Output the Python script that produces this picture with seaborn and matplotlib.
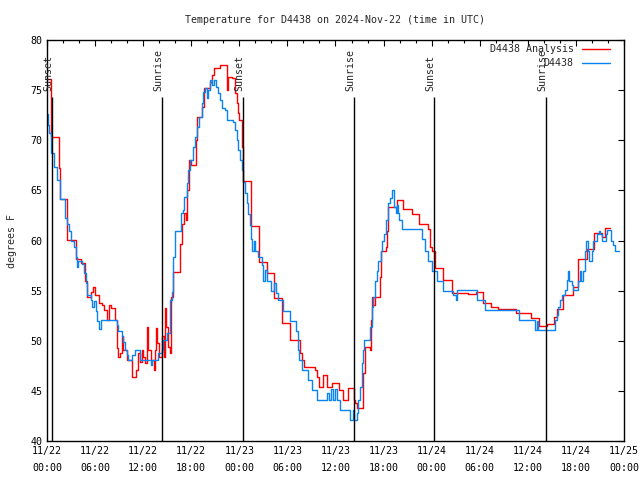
import pandas as pd
import seaborn as sns
import matplotlib.pyplot as plt
import matplotlib.dates as mdates
from matplotlib.ticker import MultipleLocator

# hours since 2024-11-22 00:00 UTC, step values in degrees F
obs_hours = [0.00, 0.12, 0.25, 0.50, 0.87, 1.25, 1.62, 2.25, 2.50, 2.75, 3.00, 3.37, 3.62, 3.74, 3.87,
             4.37, 4.62, 4.87, 4.99, 5.49, 5.62, 5.87, 6.11, 6.24, 6.49, 6.74, 8.74, 8.86, 9.36, 9.48,
             9.73, 9.98, 10.11, 10.61, 10.98, 11.61, 12.98, 13.10, 13.85, 14.35, 14.48, 14.98, 15.35,
             15.60, 15.72, 15.97, 16.72, 16.97, 17.10, 17.47, 17.60, 17.85, 18.22, 18.47, 18.72, 18.97,
             19.34, 19.47, 19.72, 19.97, 20.09, 20.34, 20.59, 20.84, 21.09, 21.34, 21.59, 21.84, 22.21,
             22.46, 23.21, 23.46, 23.71, 23.83, 24.08, 24.33, 24.46, 24.71, 24.96, 25.08, 25.33, 25.46,
             25.58, 25.83, 25.96, 26.33, 26.83, 26.96, 27.21, 27.46, 27.96, 28.33, 28.58, 28.83, 29.45,
             30.33, 31.08, 31.32, 31.45, 31.82, 32.57, 33.07, 33.70, 34.94, 35.19, 35.44, 35.69, 35.94,
             36.19, 36.56, 37.81, 38.19, 38.31, 38.69, 38.81, 39.06, 39.31, 39.44, 39.56, 40.31, 40.56,
             40.68, 40.93, 41.18, 41.31, 41.68, 41.81, 42.06, 42.31, 42.56, 42.81, 43.06, 43.31, 43.56,
             43.68, 43.81, 43.93, 44.30, 46.80, 47.17, 47.55, 48.04, 48.67, 49.42, 50.66, 51.04, 51.16,
             53.66, 54.66, 58.90, 60.90, 61.15, 61.27, 63.40, 63.65, 63.77, 64.02, 64.27, 64.64, 64.89,
             65.02, 65.14, 65.52, 65.64, 66.26, 66.51, 66.64, 66.89, 67.14, 67.26, 67.51, 67.64, 68.01,
             68.13, 68.63, 68.88, 69.01, 69.26, 69.76, 69.88, 70.38, 70.63, 70.88, 71.38]
obs_temp = [72.6, 71.5, 70.7, 68.7, 67.3, 66.0, 64.1, 62.2, 61.7, 61.0, 60.0, 59.4, 58.4, 57.4, 58.0,
            57.7, 56.8, 55.8, 54.6, 54.1, 53.4, 54.0, 53.0, 52.0, 51.2, 52.1, 51.6, 51.0, 50.5, 49.9,
            49.1, 48.6, 48.1, 48.6, 49.1, 48.1, 47.6, 48.1, 48.8, 49.1, 50.1, 50.8, 54.1,
            54.9, 58.4, 61.0, 62.7, 63.0, 64.3, 65.7, 67.0, 68.0, 69.3, 70.3, 71.3, 72.3,
            73.7, 74.8, 75.2, 74.2, 75.0, 76.0, 75.5, 76.0, 75.3, 74.7, 74.0, 73.2, 73.0,
            72.0, 71.8, 71.0, 70.0, 69.0, 68.0, 67.0, 65.8, 64.7, 63.7, 62.6, 61.6, 60.2,
            59.0, 60.0, 59.0, 58.4, 57.6, 56.0, 57.1, 56.0, 55.0, 55.8, 54.8, 54.1, 53.0,
            52.0, 51.0, 49.1, 48.1, 47.1, 46.1, 45.1, 44.1, 44.8, 44.1, 45.2, 44.1, 45.2,
            44.1, 43.1, 42.1, 43.1, 42.1, 42.8, 44.1, 45.4, 47.8, 49.1, 50.1, 51.4, 53.4,
            54.4, 56.0, 57.0, 58.0, 59.0, 60.0, 60.7, 62.0, 63.7, 64.2, 65.0, 63.3, 62.7,
            63.5, 62.7, 62.0, 61.2, 60.2, 59.0, 58.0, 57.0, 56.0, 55.0, 54.6, 54.1, 55.1,
            54.1, 53.1, 52.1, 51.1, 52.0, 51.1, 52.1, 52.6, 53.4, 54.1, 54.6, 55.1, 56.1,
            57.0, 56.0, 55.6, 55.1, 56.0, 57.0, 56.0, 57.0, 59.0, 60.0, 59.0, 58.0, 59.0,
            60.0, 60.7, 61.0, 60.7, 60.0, 60.7, 61.1, 60.0, 59.6, 59.0, 59.0]

ana_hours = [0.00, 0.50, 1.50, 1.62, 2.50, 3.62, 4.24, 4.74, 4.99, 5.49, 5.74, 5.99, 6.49, 6.86, 7.11,
             7.49, 7.74, 7.99, 8.49, 8.74, 8.86, 9.11, 9.36, 9.48, 9.98, 10.61, 11.11, 11.36, 11.61,
             11.86, 11.98, 12.23, 12.48, 12.60, 12.98, 13.35, 13.48, 13.60, 13.73, 13.98, 14.35, 14.60,
             14.73, 14.85, 15.10, 15.35, 15.47, 15.72, 16.60, 16.85, 17.10, 17.35, 17.47, 17.72, 17.97,
             18.59, 18.72, 19.34, 19.59, 20.34, 20.59, 20.84, 21.59, 22.46, 22.52, 22.59, 23.09, 23.46,
             23.71, 23.83, 23.96, 24.33, 24.46, 25.46, 26.45, 27.45, 28.33, 29.32, 30.32, 31.57, 31.82,
             32.07, 33.44, 33.70, 33.94, 34.44, 34.94, 35.56, 36.44, 36.94, 37.56, 38.31, 38.44, 38.69,
             39.44, 39.69, 40.31, 40.43, 40.56, 40.68, 40.93, 41.56, 41.68, 42.31, 42.43, 42.56, 43.68,
             44.42, 45.55, 46.42, 47.55, 47.79, 48.04, 48.42, 49.42, 50.54, 52.54, 53.53, 54.41, 55.40,
             56.28, 58.52, 60.40, 61.39, 62.39, 63.26, 63.64, 64.39, 65.64, 66.26, 67.38, 68.26, 69.25,
             69.63, 70.25]
ana_temp = [76.1, 70.3, 67.2, 64.1, 60.1, 58.2, 57.8, 56.0, 54.4, 54.9, 55.4, 54.6, 53.8, 53.6, 53.1,
            52.1, 53.6, 53.3, 52.1, 49.3, 48.4, 48.8, 50.5, 49.1, 48.1, 46.4, 47.1, 48.8, 47.9,
            49.1, 48.4, 47.8, 51.4, 49.1, 48.1, 47.1, 49.1, 51.3, 49.8, 48.4, 50.5, 48.4,
            53.3, 51.4, 49.4, 48.8, 54.4, 56.9, 59.7, 61.7, 62.7, 62.0, 65.0, 68.0, 67.5,
            70.0, 72.3, 73.3, 75.2, 75.8, 76.5, 77.2, 77.5, 76.2, 75.0, 76.3, 76.2, 74.7,
            73.7, 72.7, 72.0, 69.3, 65.9, 61.5, 57.9, 56.8, 54.3, 51.8, 50.1, 48.8, 48.1,
            47.4, 47.1, 46.4, 45.4, 46.6, 45.4, 45.8, 45.1, 44.1, 45.3, 44.1, 43.8, 43.3,
            46.8, 49.4, 49.1, 52.1, 54.4, 53.6, 54.4, 56.4, 59.0, 59.4, 61.0, 63.3, 64.0,
            63.1, 62.6, 61.7, 61.2, 59.4, 59.0, 57.3, 56.1, 54.8, 54.7, 54.9, 53.8, 53.4,
            53.2, 52.8, 52.3, 51.5, 51.7, 52.4, 53.2, 54.6, 55.4, 58.2, 59.2, 60.8, 60.4,
            61.3, 61.3]

sun_hours = [0.62, 14.35, 24.46, 38.31, 48.29, 62.27]
sun_labels = ['Sunset', 'Sunrise', 'Sunset', 'Sunrise', 'Sunset', 'Sunrise']

start = pd.Timestamp('2024-11-22 00:00')
obs_df = pd.DataFrame({'time': start + pd.to_timedelta(obs_hours, unit='h'), 'temp': obs_temp})
ana_df = pd.DataFrame({'time': start + pd.to_timedelta(ana_hours, unit='h'), 'temp': ana_temp})
sun_times = start + pd.to_timedelta(sun_hours, unit='h')

fs = 7.2
sns.set_style('white')
plt.rcParams['font.family'] = ['DejaVu Sans Mono']
plt.rcParams['font.size'] = fs

fig = plt.figure(figsize=(6.4, 4.8), dpi=100)
ax = fig.add_axes([0.0734, 0.081, 0.9016, 0.8357])

sns.lineplot(data=ana_df, x='time', y='temp', color='#ff0000', lw=1.0, drawstyle='steps-post',
             estimator=None, sort=False, ax=ax)
sns.lineplot(data=obs_df, x='time', y='temp', color='#0a84f0', lw=1.0, drawstyle='steps-post',
             estimator=None, sort=False, ax=ax)

# sunrise / sunset markers
for t, lab in zip(sun_times, sun_labels):
    ax.vlines(t, 40, 74.3, color='black', lw=1.0)
    ax.text(t + pd.Timedelta(minutes=10), 74.9, lab, rotation=90, ha='right', va='bottom',
            fontsize=fs)

ax.set_xlim(start, start + pd.Timedelta(hours=72))
ax.set_ylim(40, 80)
ax.xaxis.set_major_locator(mdates.HourLocator(byhour=[0, 6, 12, 18]))
ax.xaxis.set_minor_locator(mdates.HourLocator(interval=2))
ax.xaxis.set_major_formatter(mdates.DateFormatter('%m/%d\n%H:%M'))
ax.yaxis.set_major_locator(MultipleLocator(5))
ax.tick_params(which='both', direction='in', top=True, right=True, colors='black', labelsize=fs)
ax.tick_params(which='major', length=4.5, width=0.8)
ax.tick_params(which='minor', length=2.5, width=0.8)
for s in ax.spines.values():
    s.set_color('black')
    s.set_linewidth(1.0)

ax.set_xlabel('')
ax.set_ylabel('degrees F', fontsize=fs)
ax.yaxis.set_label_coords(-0.052, 0.5)
ax.set_title('Temperature for D4438 on 2024-Nov-22 (time in UTC)', fontsize=fs, pad=12)

# gnuplot-like key: right-aligned labels followed by line samples
for yk, lab, col in [(0.978, 'D4438 Analysis', '#ff0000'), (0.943, 'D4438', '#0a84f0')]:
    ax.text(0.913, yk, lab, transform=ax.transAxes, ha='right', va='center', fontsize=fs)
    ax.plot([0.927, 0.976], [yk, yk], transform=ax.transAxes, color=col, lw=1.0)

fig.canvas.draw()
for lbl in ax.get_xticklabels():
    lbl.set_linespacing(1.9)

fig.savefig('out.png', dpi=100)
